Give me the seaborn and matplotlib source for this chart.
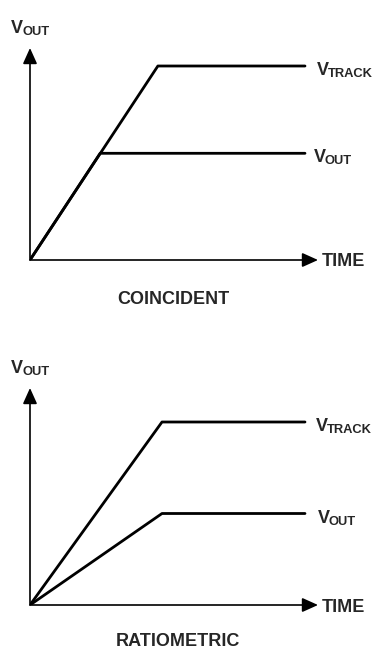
import matplotlib
matplotlib.use("Agg")
import matplotlib.pyplot as plt
import seaborn as sns
import pandas as pd

# ---- data (normalized time / voltage) ----
coincident_track_t = [0, 4.65, 10]
coincident_track_v = [0, 1.0, 1.0]
coincident_out_t = [0, 2.55, 10]
coincident_out_v = [0, 0.55, 0.55]

ratiometric_track_t = [0, 4.8, 10]
ratiometric_track_v = [0, 1.0, 1.0]
ratiometric_out_t = [0, 4.8, 10]
ratiometric_out_v = [0, 0.5, 0.5]

panel_titles = ["COINCIDENT", "RATIOMETRIC"]
signal_names = [("V", "TRACK"), ("V", "OUT")]
axis_x_label = "TIME"
axis_y_label = ("V", "OUT")

sns.set_theme(style="white")
plt.rcParams["font.family"] = ["Liberation Sans", "DejaVu Sans"]

W, H = 377, 649
fig = plt.figure(figsize=(W / 100, H / 100), dpi=100)
fig.patch.set_facecolor("white")


def px_axes(left, right, bottom, top):
    return fig.add_axes([left / W, 1 - bottom / H, (right - left) / W, (bottom - top) / H])


def make_df(track_t, track_v, out_t, out_v):
    return pd.DataFrame({
        "t": list(track_t) + list(out_t),
        "v": list(track_v) + list(out_v),
        "sig": ["track"] * len(track_t) + ["out"] * len(out_t),
    })


panels = [
    dict(box=(30, 318, 260, 48), px_per_t=27.5, px_per_v=194,
         df=make_df(coincident_track_t, coincident_track_v, coincident_out_t, coincident_out_v),
         levels=[coincident_track_v[-1], coincident_out_v[-1]],
         lab_off=[8.4, 6.3], title=panel_titles[0], title_xy=(173, 299)),
    dict(box=(30, 318, 605, 388), px_per_t=27.5, px_per_v=183,
         df=make_df(ratiometric_track_t, ratiometric_track_v, ratiometric_out_t, ratiometric_out_v),
         levels=[ratiometric_track_v[-1], ratiometric_out_v[-1]],
         lab_off=[7.7, 9.2], title=panel_titles[1], title_xy=(178, 641)),
]

MAIN_FS = 13
SUB_FS = 9.3

for p in panels:
    l, r, b, t = p["box"]
    ax = px_axes(l, r, b, t)
    ax.set_facecolor("none")
    sns.lineplot(data=p["df"], x="t", y="v", hue="sig", units="sig", estimator=None,
                 palette={"track": "black", "out": "black"}, linewidth=2.0,
                 legend=False, ax=ax, sort=False)
    ax.set_xlim(0, (r - l) / p["px_per_t"])
    ax.set_ylim(0, (b - t) / p["px_per_v"])
    for s in ax.spines.values():
        s.set_visible(False)
    ax.set_xticks([])
    ax.set_yticks([])
    ax.set_xlabel("")
    ax.set_ylabel("")
    ax.patch.set_visible(False)

    arrow = dict(arrowstyle="-|>,head_length=0.8,head_width=0.36", lw=1.2,
                 color="black", shrinkA=0, shrinkB=0)
    ax.annotate("", xy=(1, 0), xytext=(0, 0), xycoords="axes fraction", arrowprops=arrow)
    ax.annotate("", xy=(0, 1), xytext=(0, 0), xycoords="axes fraction", arrowprops=arrow)

    # axis labels
    ax.annotate(axis_x_label, xy=(1, 0), xycoords="axes fraction", xytext=(2.5, 0),
                textcoords="offset points", ha="left", va="center_baseline",
                fontsize=MAIN_FS, fontweight="bold", annotation_clip=False)
    ax.annotate(axis_y_label[0], xy=(0, 1), xycoords="axes fraction", xytext=(-13.5, 10.8),
                textcoords="offset points", ha="left", va="baseline",
                fontsize=MAIN_FS, fontweight="bold", annotation_clip=False)
    ax.annotate(axis_y_label[1], xy=(0, 1), xycoords="axes fraction", xytext=(-5.5, 9.3),
                textcoords="offset points", ha="left", va="baseline",
                fontsize=SUB_FS, fontweight="bold", annotation_clip=False)

    # signal labels
    tend = p["df"]["t"].max()
    for (main, sub), lev, off in zip(signal_names, p["levels"], p["lab_off"]):
        ax.annotate(main, xy=(tend, lev), xytext=(off, -6.5), textcoords="offset points",
                    ha="left", va="baseline", fontsize=MAIN_FS, fontweight="bold",
                    annotation_clip=False)
        ax.annotate(sub, xy=(tend, lev), xytext=(off + 8.0, -8.0), textcoords="offset points",
                    ha="left", va="baseline", fontsize=SUB_FS, fontweight="bold",
                    annotation_clip=False)

    fig.text(p["title_xy"][0] / W, 1 - p["title_xy"][1] / H, p["title"],
             ha="center", va="center", fontsize=MAIN_FS, fontweight="bold")

fig.savefig("out.png", dpi=100, facecolor="white")
